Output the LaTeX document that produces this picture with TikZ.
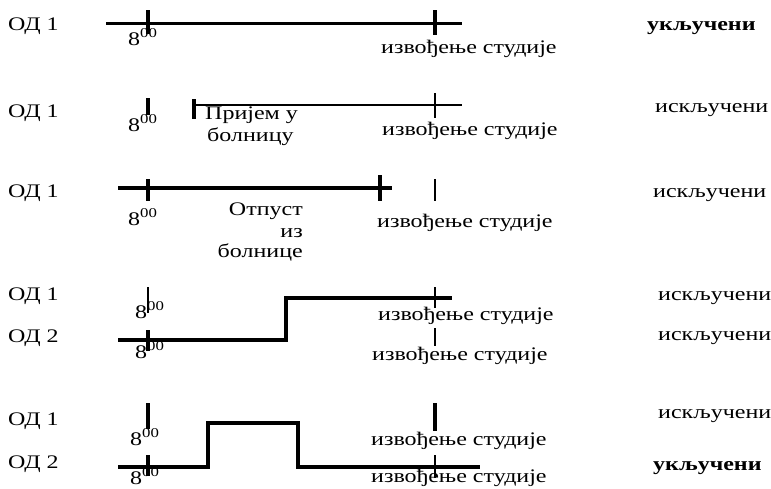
\documentclass[tikz,border=0pt]{standalone}
\usepackage{fontspec}
\setmainfont[FakeStretch=1.25]{Liberation Serif}
\newcommand\eoo{8\textsuperscript{00}}
\begin{document}
\begin{tikzpicture}[x=1pt,y=-1pt,
  txt/.style={inner sep=0pt, font=\fontsize{19.2}{21}\selectfont},
  lw/.style={txt, anchor=base west},
  le/.style={txt, anchor=base east},
  boldlbl/.style={txt, anchor=base west, font=\fontsize{19.2}{21}\selectfont\bfseries},
  tline/.style={line width=3pt},
  sline/.style={line width=4pt},
  fine/.style={line width=1.5pt},
  tk/.style={line width=3.5pt},
  tkthin/.style={line width=2pt},
]
\useasboundingbox[fill=white] (0,0) rectangle (771,488);

% ---------- Row 1 ----------
\node[lw] (r1od) at (8,30) {ОД 1};
\node[lw] (r1e) at (128,45) {\eoo};
\node[lw] (r1izv) at (381,53) {извођење студије};
\node[boldlbl] (r1res) at (647,30) {укључени};
\coordinate (r1a) at (106,23); \coordinate (r1b) at (462,23);
\coordinate (r1t1a) at (148,10); \coordinate (r1t1b) at (148,34);
\coordinate (r1t2a) at (435,10); \coordinate (r1t2b) at (435,35);
\draw[tline] (r1a) -- (r1b);
\draw[tk] (r1t1a) -- (r1t1b);
\draw[tk] (r1t2a) -- (r1t2b);

% ---------- Row 2 ----------
\node[lw] (r2od) at (8,117) {ОД 1};
\node[lw] (r2e) at (128,131) {\eoo};
\node[lw] (r2p1) at (205,119) {Пријем у};
\node[lw] (r2p2) at (207,141) {болницу};
\node[lw] (r2izv) at (382,135) {извођење студије};
\node[lw] (r2res) at (655,112) {искључени};
\coordinate (r2a) at (194,105); \coordinate (r2b) at (462,105);
\coordinate (r2t1a) at (148,98); \coordinate (r2t1b) at (148,115);
\coordinate (r2t2a) at (194,99); \coordinate (r2t2b) at (194,119);
\coordinate (r2t3a) at (435,93); \coordinate (r2t3b) at (435,118);
\draw[fine] (r2a) -- (r2b);
\draw[tk] (r2t1a) -- (r2t1b);
\draw[tk] (r2t2a) -- (r2t2b);
\draw[tkthin] (r2t3a) -- (r2t3b);

% ---------- Row 3 ----------
\node[lw] (r3od) at (8,197) {ОД 1};
\node[lw] (r3e) at (128,225) {\eoo};
\node[le] (r3o1) at (303,215) {Отпуст};
\node[le] (r3o2) at (303,237) {из};
\node[le] (r3o3) at (303,257) {болнице};
\node[lw] (r3izv) at (377,227) {извођење студије};
\node[lw] (r3res) at (653,197) {искључени};
\coordinate (r3a) at (118,188); \coordinate (r3b) at (392,188);
\coordinate (r3t1a) at (148,179); \coordinate (r3t1b) at (148,201);
\coordinate (r3t2a) at (380,175); \coordinate (r3t2b) at (380,201);
\coordinate (r3t3a) at (435,179); \coordinate (r3t3b) at (435,201);
\draw[sline] (r3a) -- (r3b);
\draw[tk] (r3t1a) -- (r3t1b);
\draw[tk] (r3t2a) -- (r3t2b);
\draw[tkthin] (r3t3a) -- (r3t3b);

% ---------- Row 4 ----------
\node[lw] (r4od1) at (8,300) {ОД 1};
\node[lw] (r4od2) at (8,342) {ОД 2};
\node[lw] (r4e1) at (135,318) {\eoo};
\node[lw] (r4e2) at (135,358) {\eoo};
\node[lw] (r4izv1) at (378,320) {извођење студије};
\node[lw] (r4izv2) at (372,360) {извођење студије};
\node[lw] (r4res1) at (658,300) {искључени};
\node[lw] (r4res2) at (658,340) {искључени};
\coordinate (r4a) at (118,340); \coordinate (r4b) at (286,340);
\coordinate (r4c) at (286,298); \coordinate (r4d) at (452,298);
\coordinate (r4t1a) at (148,287); \coordinate (r4t1b) at (148,313);
\coordinate (r4t2a) at (148,330); \coordinate (r4t2b) at (148,351);
\coordinate (r4t3a) at (435,287); \coordinate (r4t3b) at (435,308);
\coordinate (r4t4a) at (435,328); \coordinate (r4t4b) at (435,346);
\draw[line width=4.5pt, line join=miter] (r4a) -- (r4b) -- (r4c) -- (r4d);
\draw[tkthin] (r4t1a) -- (r4t1b);
\draw[tk] (r4t2a) -- (r4t2b);
\draw[tkthin] (r4t3a) -- (r4t3b);
\draw[tkthin] (r4t4a) -- (r4t4b);

% ---------- Row 5 ----------
\node[lw] (r5od1) at (8,425) {ОД 1};
\node[lw] (r5od2) at (8,468) {ОД 2};
\node[lw] (r5e1) at (130,445) {\eoo};
\node[lw] (r5e2) at (130,484) {\eoo};
\node[lw] (r5izv1) at (371,445) {извођење студије};
\node[lw] (r5izv2) at (371,482) {извођење студије};
\node[lw] (r5res1) at (658,418) {искључени};
\node[boldlbl] (r5res2) at (653,470) {укључени};
\coordinate (r5a) at (118,467); \coordinate (r5b) at (208,467);
\coordinate (r5c) at (208,423); \coordinate (r5d) at (298,423);
\coordinate (r5e) at (298,467); \coordinate (r5f) at (480,467);
\coordinate (r5t1a) at (148,403); \coordinate (r5t1b) at (148,429);
\coordinate (r5t2a) at (148,455); \coordinate (r5t2b) at (148,476);
\coordinate (r5t3a) at (435,403); \coordinate (r5t3b) at (435,431);
\coordinate (r5t4a) at (435,455); \coordinate (r5t4b) at (435,478);
\draw[sline, line join=miter] (r5a) -- (r5b) -- (r5c) -- (r5d) -- (r5e) -- (r5f);
\draw[tk] (r5t1a) -- (r5t1b);
\draw[tk] (r5t2a) -- (r5t2b);
\draw[tk] (r5t3a) -- (r5t3b);
\draw[tkthin] (r5t4a) -- (r5t4b);
\end{tikzpicture}
\end{document}
